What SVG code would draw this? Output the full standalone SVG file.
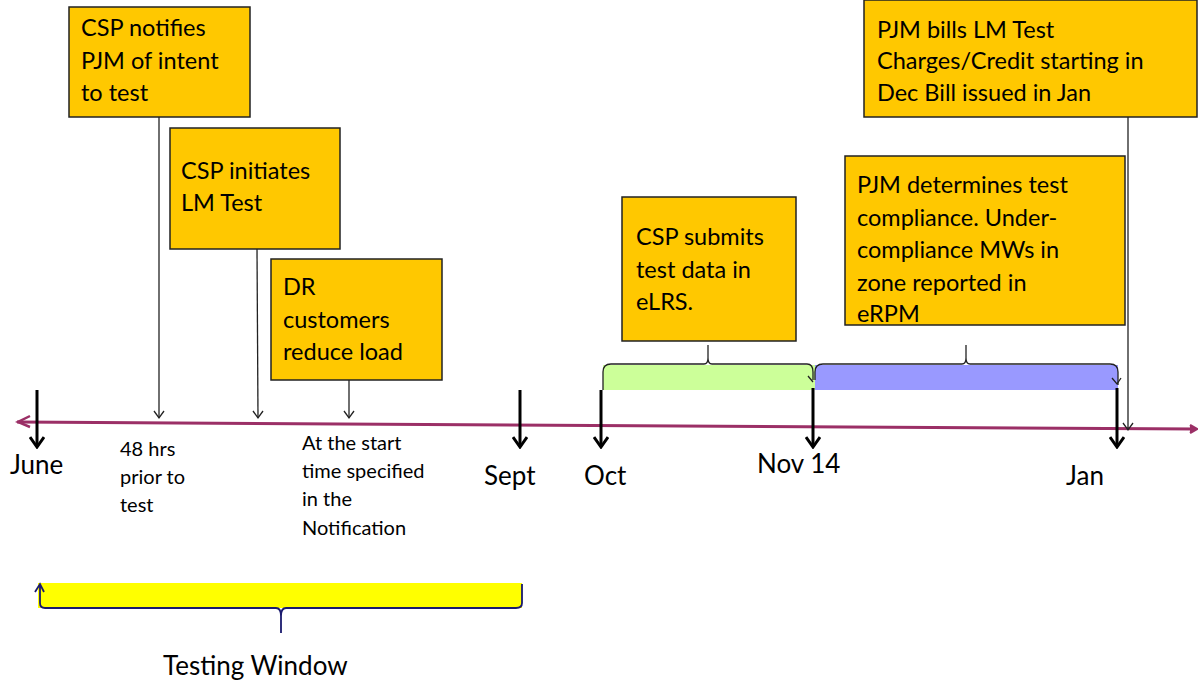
<svg xmlns="http://www.w3.org/2000/svg" width="1198" height="683" viewBox="0 0 1198 683">
<style>
.box{fill:#ffc800;stroke:#222;stroke-width:1.5}
.bt{font-family:Lato,"Open Sans",sans-serif;font-size:23.5px;fill:#000}
.st{font-family:Lato,"Open Sans",sans-serif;font-size:20px;fill:#000}
.mt{font-family:Lato,"Open Sans",sans-serif;font-size:26px;fill:#000}
.thin{stroke:#222;stroke-width:1.3;fill:none}
.thick{stroke:#000;stroke-width:3;fill:none}
</style>
<defs>
<marker id="ah" markerWidth="12" markerHeight="12" refX="6" refY="10" markerUnits="userSpaceOnUse" viewBox="0 0 12 12">
<path d="M1,3 L6,10 L11,3" fill="none" stroke="#222" stroke-width="1.3"/>
</marker>
<marker id="ahk" markerWidth="16" markerHeight="14" refX="8" refY="12" markerUnits="userSpaceOnUse" viewBox="0 0 16 14">
<path d="M1,2 L8,12 L15,2" fill="none" stroke="#000" stroke-width="3"/>
</marker>
</defs>
<rect width="1198" height="683" fill="#fff"/>
<g id="braces">
<path d="M603,365 H815 V390 H603 Z" fill="#ccff99"/>
<path d="M815,365 H1118 V390 H815 Z" fill="#9999ff"/>
<path d="M603,390 V372 Q603,364 611,364 H704 Q708,364 708,358 V345 M708,358 Q708,364 712,364 H807 Q813,364 813,372 V380" class="thin" stroke-width="1.5"/>
<path d="M815,380 V372 Q815,364 823,364 H962 Q966,364 966,358 V345 M966,358 Q966,364 970,364 H1110 Q1118,364 1118,372 V385" class="thin" stroke-width="1.5"/>
<path d="M808,376 L813,382 M1112,378 L1117,384 L1121,378" class="thin"/>
<rect x="38" y="583" width="484" height="25" fill="#ffff00"/>
<path d="M40,586 V603 Q40,608 45,608 H276 Q281,608 281,616 V633 M281,616 Q281,608 286,608 H516 Q522,608 522,603 V584 M35,592 L40,584 L44,592" fill="none" stroke="#1a1a6e" stroke-width="1.8"/>
</g>
<g id="timeline">
<path d="M17,422 L1196,429" stroke="#9b2f66" stroke-width="3" fill="none"/>
<path d="M30,416 L18,422 L30,427" stroke="#9b2f66" stroke-width="2.5" fill="none"/>
<path d="M1190,425 L1197,429 L1190,433" stroke="#9b2f66" stroke-width="2.5" fill="#9b2f66"/>
</g>
<g id="connectors">
<line x1="159" y1="117" x2="159" y2="418" class="thin" marker-end="url(#ah)"/>
<line x1="257" y1="249" x2="258" y2="418" class="thin" marker-end="url(#ah)"/>
<line x1="349" y1="380" x2="349" y2="418" class="thin" marker-end="url(#ah)"/>
<line x1="1128" y1="117" x2="1128" y2="430" class="thin" marker-end="url(#ah)"/>
<line x1="37" y1="390" x2="37" y2="447" class="thick" marker-end="url(#ahk)"/>
<line x1="520" y1="390" x2="520" y2="447" class="thick" marker-end="url(#ahk)"/>
<line x1="601" y1="390" x2="601" y2="447" class="thick" marker-end="url(#ahk)"/>
<line x1="813" y1="388" x2="813" y2="447" class="thick" marker-end="url(#ahk)"/>
<line x1="1117" y1="388" x2="1117" y2="447" class="thick" marker-end="url(#ahk)"/>
</g>
<g id="n1"><rect x="69" y="7" width="181" height="110" class="box"/>
<text class="bt" x="81" y="36">CSP notifies</text><text class="bt" x="81" y="69">PJM of intent</text><text class="bt" x="81" y="101">to test</text></g>
<g id="n2"><rect x="170" y="128" width="170" height="121" class="box"/>
<text class="bt" x="181" y="179">CSP initiates</text><text class="bt" x="181" y="211">LM Test</text></g>
<g id="n3"><rect x="271" y="259" width="171" height="121" class="box"/>
<text class="bt" x="283" y="295">DR</text><text class="bt" x="283" y="328">customers</text><text class="bt" x="283" y="360">reduce load</text></g>
<g id="n4"><rect x="622" y="197" width="174" height="144" class="box"/>
<text class="bt" x="636" y="245">CSP submits</text><text class="bt" x="636" y="278">test data in</text><text class="bt" x="636" y="310">eLRS.</text></g>
<g id="n5"><rect x="845" y="156" width="280" height="169" class="box"/>
<text class="bt" x="857" y="193">PJM determines test</text><text class="bt" x="857" y="226">compliance. Under-</text><text class="bt" x="857" y="258">compliance MWs in</text><text class="bt" x="857" y="291">zone reported in</text><text class="bt" x="857" y="322">eRPM</text></g>
<g id="n6"><rect x="864" y="0" width="333" height="117" class="box"/>
<text class="bt" x="877" y="38">PJM bills LM Test</text><text class="bt" x="877" y="69">Charges/Credit starting in</text><text class="bt" x="877" y="101">Dec Bill issued in Jan</text></g>
<g id="labels">
<text class="mt" x="10" y="474">June</text>
<text class="mt" x="484" y="485">Sept</text>
<text class="mt" x="584" y="485">Oct</text>
<text class="mt" x="757" y="473">Nov 14</text>
<text class="mt" x="1066" y="485">Jan</text>
<text class="st" x="120" y="456">48 hrs</text><text class="st" x="120" y="484">prior to</text><text class="st" x="120" y="512">test</text>
<text class="st" x="302" y="450">At the start</text><text class="st" x="302" y="478">time specified</text><text class="st" x="302" y="506">in the</text><text class="st" x="302" y="535">Notification</text>
<text class="mt" x="163" y="675" font-size="27">Testing Window</text>
</g>
</svg>
